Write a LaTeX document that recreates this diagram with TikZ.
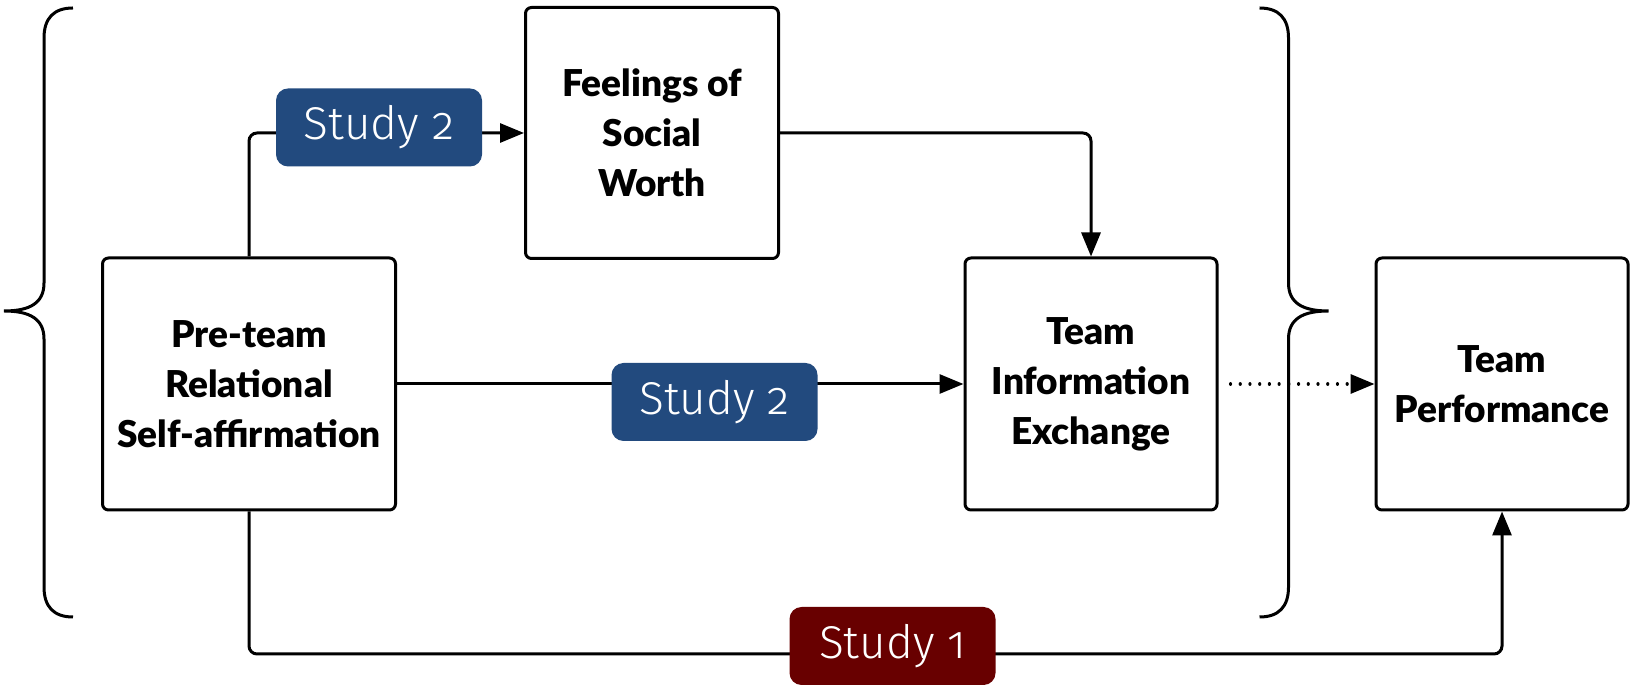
\documentclass[tikz,border=0pt]{standalone}
\usepackage{fontspec}
\setmainfont{Lato}
\newfontfamily\boxfont{Lato Black}
\newfontfamily\studyfont{Fira Sans Light}[Numbers=OldStyle]
\usetikzlibrary{arrows.meta,calc}
\definecolor{studyblue}{HTML}{224A7E}
\definecolor{studyred}{HTML}{680000}
\tikzset{
  box/.style={draw, line width=1.5pt, rounded corners=3pt, align=center,
    inner sep=0pt, font=\fontsize{18.5}{25}\selectfont\boxfont,
    minimum width=126pt, minimum height=126pt},
  study/.style={rounded corners=6pt, text=white, inner sep=0pt,
    minimum width=103pt, minimum height=39pt,
    font=\fontsize{23}{26}\selectfont\studyfont},
  link/.style={line width=1.5pt, rounded corners=4pt,
    -{Triangle[length=12pt,width=9.5pt]}},
  brace/.style={line width=1.5pt},
}
\begin{document}
\begin{tikzpicture}[x=0.5pt,y=-0.5pt]
\useasboundingbox (0,0) rectangle (1632,688);

% variable boxes
\node[box, minimum width=146.5pt] (pre) at (249,384) {Pre-team\\Relational\\Self-affirmation};
\node[box, minimum width=126.5pt, minimum height=125.5pt] (feel) at (652,133) {Feelings of\\Social\\Worth};
\node[box] (info) at (1091,384) {Team\\Information\\Exchange};
\node[box] (perf) at (1502,384) {Team\\Performance};

% paths between the variables
\coordinate (low) at (0,654);
\draw[link] (pre.north) |- (feel.west);
\draw[link] (feel.east) -| (info.north);
\draw[link] (pre.east) -- (info.west);
\draw[link, rounded corners=0pt, line width=1.6pt, line cap=round,
  dash pattern=on 0.01pt off 4.85pt, shorten <=6pt] (info.east) -- (perf.west);
\draw[link] (pre.south) |- (perf.south |- low) -- (perf.south);

% study tags on the paths
\node[study, fill=studyblue] (s2a) at (379,127.5) {Study 2};
\node[study, fill=studyblue] (s2b) at (714.5,402) {Study 2};
\node[study, fill=studyred] (s1) at (892.5,646) {Study 1};

% braces grouping the mediation model
\draw[brace] (73,8) .. controls (54,8) and (44,18) .. (44,38) -- (44,283)
  .. controls (44,303) and (30,311) .. (4,311)
  .. controls (30,311) and (44,319) .. (44,339) -- (44,587)
  .. controls (44,607) and (54,617) .. (73,617);
\draw[brace] (1259.5,8) .. controls (1278.5,8) and (1288.5,18) .. (1288.5,38) -- (1288.5,283)
  .. controls (1288.5,303) and (1302.5,311) .. (1328.5,311)
  .. controls (1302.5,311) and (1288.5,319) .. (1288.5,339) -- (1288.5,587)
  .. controls (1288.5,607) and (1278.5,617) .. (1259.5,617);
\end{tikzpicture}
\end{document}
